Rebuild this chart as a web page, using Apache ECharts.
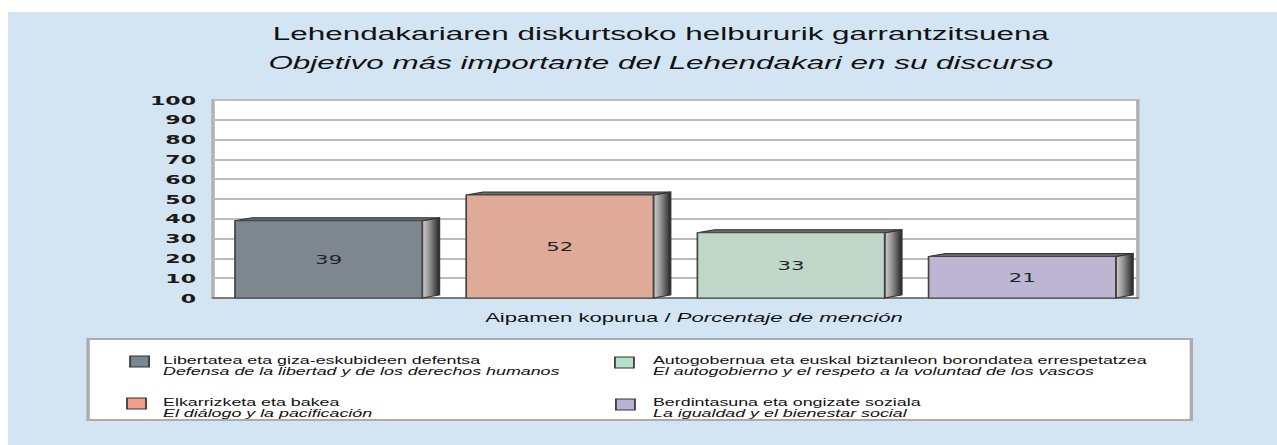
<!DOCTYPE html>
<html><head><meta charset="utf-8">
<script src="https://cdn.jsdelivr.net/npm/echarts@6/dist/echarts.min.js"></script>
<style>
html,body{margin:0;padding:0;background:#fff;width:1277px;height:445px;overflow:hidden;}
#wrap{position:absolute;left:8px;top:12px;width:747px;height:433px;transform:scaleX(1.7);transform-origin:0 0;}
</style></head><body><div id="wrap"></div>
<script>
// ---- data ----
const titleEu = 'Lehendakariaren diskurtsoko helbururik garrantzitsuena';
const titleEs = 'Objetivo más importante del Lehendakari en su discurso';
const axisNameEu = 'Aipamen kopurua';
const axisNameEs = 'Porcentaje de mención';
const categoriesEu = [
  'Libertatea eta giza-eskubideen defentsa',
  'Elkarrizketa eta bakea',
  'Autogobernua eta euskal biztanleon borondatea errespetatzea',
  'Berdintasuna eta ongizate soziala'
];
const categoriesEs = [
  'Defensa de la libertad y de los derechos humanos',
  'El diálogo y la pacificación',
  'El autogobierno y el respeto a la voluntad de los vascos',
  'La igualdad y el bienestar social'
];
const values = [39, 52, 33, 21];
const yMin = 0, yMax = 100, yStep = 10;

// ---- styles ----
const barColors = ['#7e8790', '#dfaa97', '#c0d7ca', '#bdb6d2'];
const swatchColors = ['#778793', '#ef9f88', '#b5e0ca', '#bbb0d8'];
const FONT = '"Liberation Sans", Arial, sans-serif';
// legend layout (unscaled coordinates)
const swatchPos = [[71.8, 344], [70, 386], [357, 345], [357.6, 387]];
const textPos = [[91.2, 353.5], [91.2, 395.5], [379.4, 353.5], [379.4, 395.5]];

const chart = echarts.init(document.getElementById('wrap'), null, {renderer: 'svg'});

const legendGraphics = [{
  type: 'rect', shape: {x: 47.1, y: 327, width: 649, height: 81},
  style: {fill: '#ffffff', stroke: '#acacac', lineWidth: 2}, z: 1
}];
categoriesEu.forEach((name, i) => {
  legendGraphics.push({
    type: 'rect', shape: {x: swatchPos[i][0], y: swatchPos[i][1], width: 11.2, height: 11},
    style: {fill: swatchColors[i], stroke: '#333', lineWidth: 1}, z: 2
  });
  legendGraphics.push({
    type: 'text', x: textPos[i][0], y: textPos[i][1], z: 2,
    style: {
      text: '{a|' + name + '}\n{b|' + categoriesEs[i] + '}',
      verticalAlign: 'middle', align: 'left',
      rich: {
        a: {fontFamily: FONT, fontSize: 10.5, fill: '#111', lineHeight: 11},
        b: {fontFamily: FONT, fontSize: 10.5, fontStyle: 'italic', fill: '#111', lineHeight: 11}
      }
    }
  });
});

const option = {
  backgroundColor: '#d3e5f3',
  animation: false,
  grid: {
    left: 120.6, right: 82.4, top: 88, bottom: 147,
    show: true, backgroundColor: '#ffffff', borderColor: '#b0b0b0', borderWidth: 2
  },
  xAxis: {
    type: 'category',
    data: categoriesEu,
    axisLabel: {show: false},
    axisTick: {show: false},
    axisLine: {show: true, lineStyle: {color: '#666', width: 1.5}}
  },
  yAxis: {
    type: 'value', min: yMin, max: yMax, interval: yStep,
    axisLine: {show: false}, axisTick: {show: false},
    axisLabel: {
      margin: 10, color: '#1a1a1a',
      fontFamily: '"DejaVu Sans", sans-serif', fontWeight: 'bold', fontSize: 13
    },
    splitLine: {show: true, lineStyle: {color: '#bcbcbc', width: 2}}
  },
  graphic: [
    {type: 'text', x: 384, y: 22, style: {text: titleEu, font: '18.5px ' + FONT, fill: '#111', align: 'center', verticalAlign: 'middle'}},
    {type: 'text', x: 384, y: 51, style: {text: titleEs, font: 'italic 18.5px ' + FONT, fill: '#111', align: 'center', verticalAlign: 'middle'}},
    {type: 'text', x: 403.5, y: 306, style: {
      text: '{a|' + axisNameEu + ' / }{b|' + axisNameEs + '}', align: 'center', verticalAlign: 'middle',
      rich: {
        a: {fontFamily: FONT, fontSize: 13, fill: '#111'},
        b: {fontFamily: FONT, fontSize: 13, fontStyle: 'italic', fill: '#111'}
      }
    }}
  ].concat(legendGraphics),
  series: [{
    type: 'custom',
    data: values.map((v, i) => [i, v]),
    encode: {x: 0, y: 1},
    renderItem: function (params, api) {
      const idx = params.dataIndex;
      const v = api.value(1);
      const top = api.coord([api.value(0), v]);
      const base = api.coord([api.value(0), 0]);
      const band = api.size([1, 0])[0];
      const w = band * 0.81;
      const d = band * 0.074;
      const dy = 3;
      const xl = top[0] - w / 2, xr = top[0] + w / 2, yt = top[1], yb = base[1];
      const sideFill = new echarts.graphic.LinearGradient(0, 0, 1, 0, [
        {offset: 0, color: '#d6d0d0'},
        {offset: 0.45, color: '#8e8e8e'},
        {offset: 1, color: '#262626'}
      ]);
      return {
        type: 'group',
        children: [
          {type: 'polygon', shape: {points: [[xr, yt], [xr + d, yt - dy], [xr + d, yb - dy], [xr, yb]]},
            style: {fill: sideFill, stroke: '#333', lineWidth: 1}},
          {type: 'polygon', shape: {points: [[xl, yt], [xl + d, yt - dy], [xr + d, yt - dy], [xr, yt]]},
            style: {fill: '#6a6a6a', stroke: '#333', lineWidth: 1}},
          {type: 'rect', shape: {x: xl, y: yt, width: w, height: yb - yt},
            style: {fill: barColors[idx], stroke: '#444', lineWidth: 1}},
          {type: 'text', x: top[0], y: (yt + yb) / 2,
            style: {text: String(v), align: 'center', verticalAlign: 'middle',
              font: '12.5px "DejaVu Sans", sans-serif', fill: '#222'}}
        ]
      };
    }
  }]
};
chart.setOption(option);
</script>
</body></html>
